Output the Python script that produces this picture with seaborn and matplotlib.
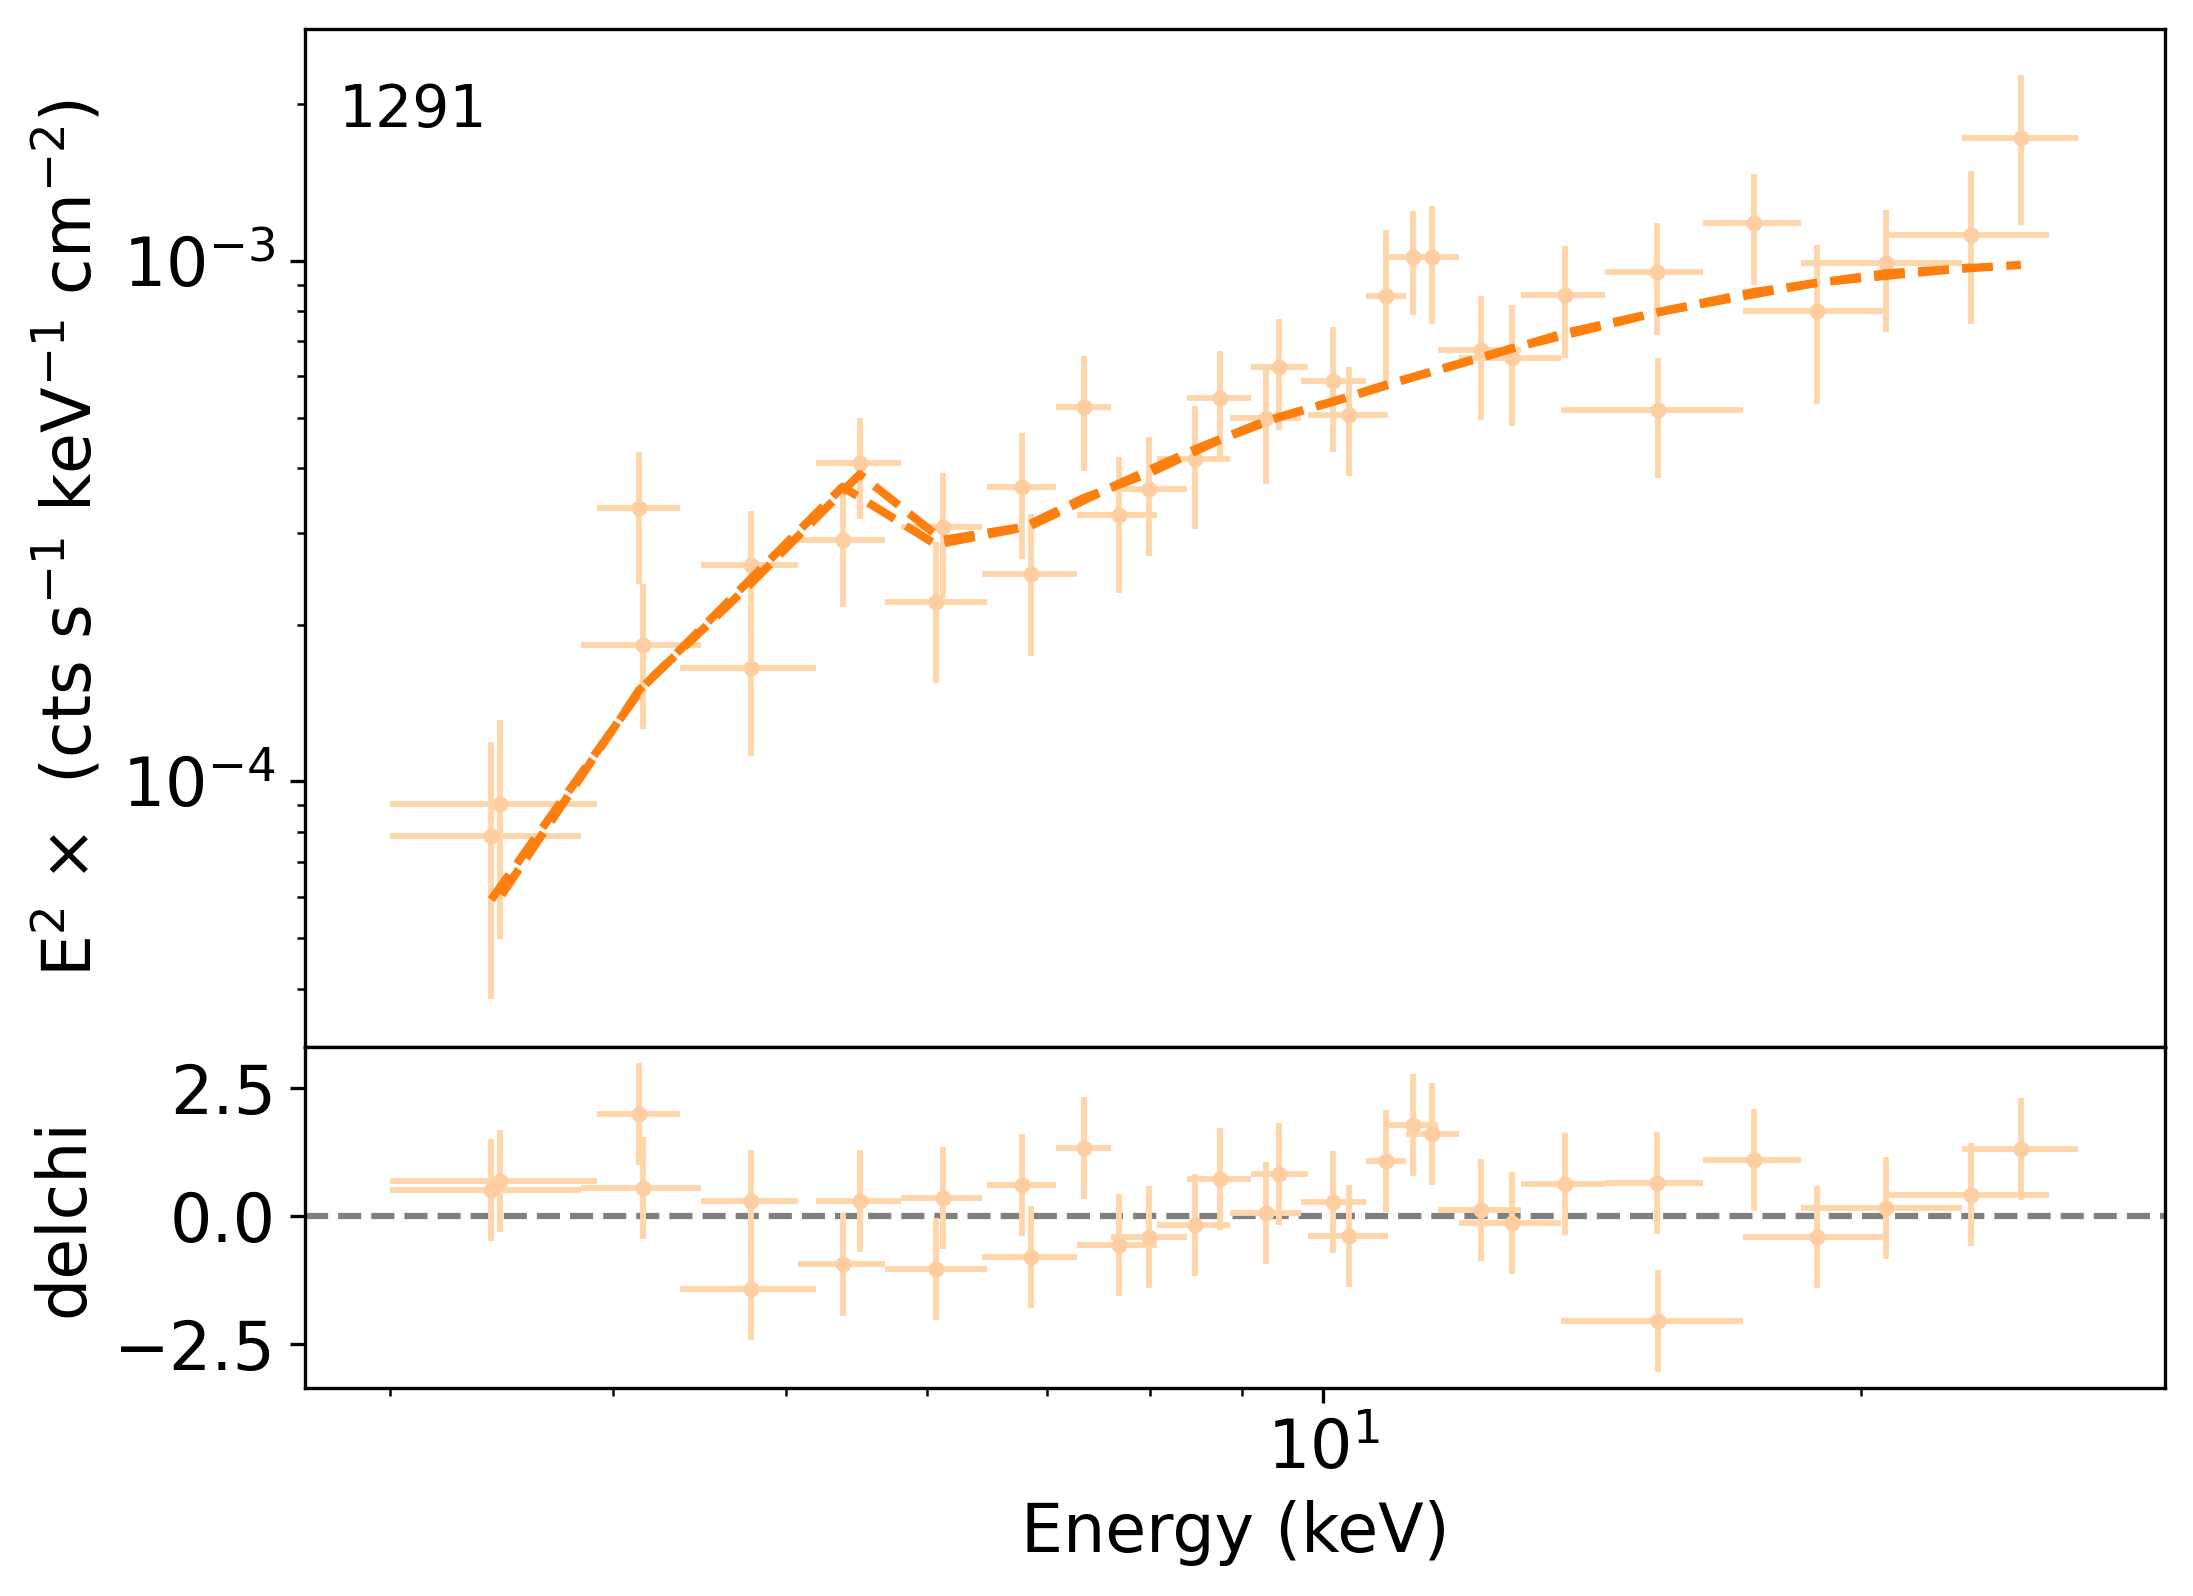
import numpy as np
import matplotlib
matplotlib.use("Agg")
import matplotlib.pyplot as plt
from matplotlib.ticker import MultipleLocator, NullFormatter
import seaborn as sns

# spectrum 1 (FPMA-like binning)
a_energy = [3.42, 4.16, 4.78, 5.38, 6.07, 6.78, 7.34, 7.99, 8.75, 9.45,
            10.33, 11.23, 12.25, 13.66, 15.37, 17.42, 20.65, 24.58]
a_elo = [3.00, 3.84, 4.48, 5.08, 5.68, 6.48, 7.08, 7.60, 8.39, 9.11,
         9.80, 10.87, 11.60, 12.90, 14.38, 16.32, 18.51, 22.77]
a_ehi = [3.84, 4.48, 5.08, 5.68, 6.48, 7.08, 7.60, 8.39, 9.11, 9.80,
         10.87, 11.60, 12.90, 14.38, 16.32, 18.51, 22.77, 26.45]
a_flux = [7.87e-5, 1.83e-4, 2.61e-4, 2.91e-4, 2.215e-4, 3.67e-4, 5.25e-4, 3.65e-4, 5.45e-4, 6.24e-4,
          5.06e-4, 1.016e-3, 6.75e-4, 8.6e-4, 9.5e-4, 1.184e-3, 9.9e-4, 1.722e-3]
a_ferr = [4.05e-5, 5.7e-5, 6.9e-5, 7.5e-5, 6.7e-5, 1.0e-4, 1.3e-4, 9.4e-5, 1.27e-4, 1.5e-4,
          1.2e-4, 2.3e-4, 1.8e-4, 2.1e-4, 2.3e-4, 2.85e-4, 2.6e-4, 5.5e-4]
a_model = [5.93e-5, 1.52e-4, 2.45e-4, 3.68e-4, 2.85e-4, 3.07e-4, 3.50e-4, 3.91e-4, 4.53e-4, 5.01e-4,
           5.47e-4, 5.98e-4, 6.51e-4, 7.27e-4, 7.96e-4, 8.71e-4, 9.46e-4, 9.82e-4]
a_delchi = [0.51, 0.54, 0.30, -0.95, -1.03, 0.61, 1.34, -0.41, 0.72, 0.83,
            -0.39, 1.78, 0.12, 0.63, 0.65, 1.09, 0.16, 1.32]

# spectrum 2 (FPMB-like binning)
b_energy = [3.46, 4.14, 4.78, 5.50, 6.12, 6.86, 7.68, 8.48, 9.29, 10.13,
            10.84, 11.51, 12.75, 15.40, 18.89, 23.05]
b_elo = [3.00, 3.92, 4.36, 5.20, 5.80, 6.44, 7.28, 8.07, 8.87, 9.71,
         10.56, 11.12, 11.91, 13.59, 17.18, 20.59]
b_ehi = [3.92, 4.36, 5.20, 5.80, 6.44, 7.28, 8.07, 8.87, 9.71, 10.56,
         11.12, 11.91, 13.59, 17.18, 20.59, 25.49]
b_flux = [9.06e-5, 3.35e-4, 1.648e-4, 4.09e-4, 3.08e-4, 2.50e-4, 3.25e-4, 4.16e-4, 4.99e-4, 5.88e-4,
          8.54e-4, 1.016e-3, 6.52e-4, 5.16e-4, 8.02e-4, 1.122e-3]
b_ferr = [4.07e-5, 9.5e-5, 5.3e-5, 9.0e-5, 8.3e-5, 7.6e-5, 9.5e-5, 1.1e-4, 1.27e-4, 1.58e-4,
          2.9e-4, 2.6e-4, 1.7e-4, 1.34e-4, 2.7e-4, 3.65e-4]
b_model = [6.0e-5, 1.50e-4, 2.40e-4, 3.89e-4, 2.91e-4, 3.10e-4, 3.73e-4, 4.35e-4, 4.93e-4, 5.37e-4,
           5.78e-4, 6.13e-4, 6.79e-4, 7.97e-4, 9.08e-4, 9.71e-4]
b_delchi = [0.69, 1.99, -1.43, 0.30, 0.36, -0.80, -0.56, -0.18, 0.05, 0.28,
            1.07, 1.60, -0.14, -2.05, -0.42, 0.42]

source_id = "1291"
model_color = "#ff7f0e"
bar_color = "#ffd5aa"
point_color = "#ffcda0"
DPI = 300
MODEL_LW = 2.0
DASH = (3.7, 1.6)  # matplotlib's '--' pattern, in units of linewidth

plt.rcParams["font.size"] = 16

fig = plt.figure(figsize=(2193 / DPI, 1596 / DPI), dpi=DPI)
ax1 = fig.add_axes([0.13908, 0.34398, 0.84815, 0.63797])
ax2 = fig.add_axes([0.13908, 0.13033, 0.84815, 0.21365], sharex=ax1)

ax1.set_xscale("log")
ax1.set_yscale("log")
ax1.set_xlim(2.69, 29.6)
ax1.set_ylim(3.09e-5, 2.79e-3)
ax2.set_ylim(-3.37, 3.31)


def path_length(ax, xs, ys):
    """Cumulative on-screen length (px) along a polyline."""
    pts = ax.transData.transform(np.column_stack([xs, ys]))
    seg = np.hypot(*np.diff(pts, axis=0).T)
    return pts, np.concatenate([[0.0], np.cumsum(seg)])


# the two model curves overlap almost exactly; pick the dash phase of the
# second one so the pair looks solid at low energy (dashes fill each
# other's gaps) and reads as one dashed curve at high energy (in phase)
pts_a, len_a = path_length(ax1, a_energy, a_model)
pts_b, len_b = path_length(ax1, b_energy, b_model)
period_px = sum(DASH) * MODEL_LW * DPI / 72
d_low_raw = np.interp(pts_b[0, 0], pts_a[:, 0], len_a) - len_b[0]
d_high_raw = np.interp(pts_b[-1, 0], pts_a[:, 0], len_a) - len_b[-1]
delta = (d_low_raw - d_high_raw) % period_px

shifts = np.linspace(-6, 6, 241)
low_phase = (delta + shifts) % period_px
score = 2 * np.clip(np.abs(low_phase - 22) - 5, 0, None) + np.abs(shifts)
d_high = shifts[np.argmin(score)]
offset_px = (d_high_raw - d_high) % period_px
offset_units = offset_px * 72 / DPI / MODEL_LW

styles = [(0, DASH), (offset_units, DASH)]

spectra = [
    (a_energy, a_elo, a_ehi, a_flux, a_ferr, a_model, a_delchi),
    (b_energy, b_elo, b_ehi, b_flux, b_ferr, b_model, b_delchi),
]

for (e, lo, hi, flux, ferr, model, delchi), ls in zip(spectra, styles):
    e = np.array(e)
    xerr = [e - np.array(lo), np.array(hi) - e]

    ax1.errorbar(e, flux, xerr=xerr, yerr=ferr, fmt="o", ms=3, mew=0.8,
                 color=point_color, ecolor=bar_color, elinewidth=1.4,
                 capsize=0, zorder=2)
    sns.lineplot(x=e, y=model, ax=ax1, color=model_color, linestyle=ls,
                 lw=MODEL_LW, zorder=3)

    ax2.errorbar(e, delchi, xerr=xerr, yerr=1.0, fmt="o", ms=3, mew=0.8,
                 color=point_color, ecolor=bar_color, elinewidth=1.4,
                 capsize=0, zorder=2)

ax2.axhline(0, color="gray", linestyle="--", lw=1.5, zorder=1)

ax1.text(0.018, 0.904, source_id, transform=ax1.transAxes,
         fontsize=14, va="baseline")

ax1.set_xlim(2.69, 29.6)
ax1.set_ylim(3.09e-5, 2.79e-3)
ax2.set_ylim(-3.37, 3.31)

ax1.set_ylabel(r"E$^2$ $\times$  (cts s$^{-1}$ keV$^{-1}$ cm$^{-2}$)", fontsize=16)
ax1.set_xlabel("")
ax1.tick_params(labelbottom=False)

ax2.set_ylabel("delchi", fontsize=16)
ax2.set_xlabel("Energy (keV)", fontsize=16)
ax2.yaxis.set_major_locator(MultipleLocator(2.5))
ax2.xaxis.set_minor_formatter(NullFormatter())

ax1.tick_params(labelsize=16)
ax2.tick_params(labelsize=16)

fig.savefig("out.png", dpi=DPI)
print("delta", round(delta, 1), "d_high", round(d_high, 2), "offset", round(offset_px, 1))
